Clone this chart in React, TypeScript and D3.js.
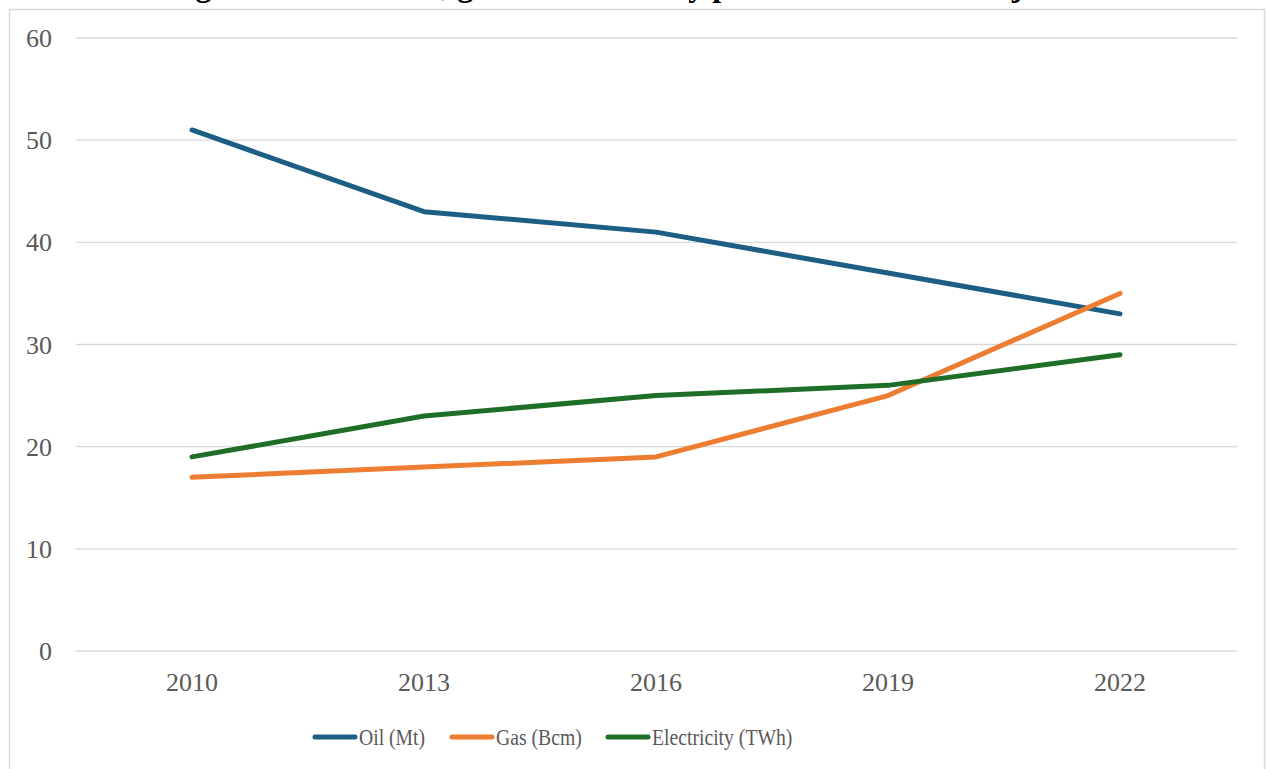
import React from "react";
import * as d3 from "d3";

const years = ["2010", "2013", "2016", "2019", "2022"];
const oilMt = [51, 43, 41, 37, 33];
const gasBcm = [17, 18, 19, 25, 35];
const electricityTWh = [19, 23, 25, 26, 29];
const yTicks = [0, 10, 20, 30, 40, 50, 60];
const seriesNames = ["Oil (Mt)", "Gas (Bcm)", "Electricity (TWh)"];
const seriesColors = ["#1D5F84", "#ED7D31", "#1E6E28"];
const titleText = "Figure 1: Annual oil, gas and electricity production in Azerbaijan";

export default function App() {
  const W = 1266;
  const H = 769;
  const x = d3.scaleBand<string>().domain(years).range([76, 1236]);
  const y = d3.scaleLinear().domain([0, 60]).range([651, 38]);
  const cx = (d: string) => (x(d) ?? 0) + x.bandwidth() / 2;
  const series = [oilMt, gasBcm, electricityTWh];
  const line = d3
    .line<number>()
    .x((_, i) => cx(years[i]))
    .y((v) => y(v));

  const legendX = [315, 452, 608];
  const font = "'Liberation Serif', 'Times New Roman', serif";

  return (
    <svg
      width={W}
      height={H}
      style={{ position: "absolute", left: 0, top: 0, background: "#fff" }}
      fontFamily={font}
    >
      <rect x={0} y={0} width={W} height={H} fill="#fff" />
      <text x={167} y={-4} textAnchor="start" fontSize={32} fontWeight="bold" fill="#000">
        {titleText}
      </text>
      <rect x={9.5} y={9.5} width={1255} height={780} fill="none" stroke="#d9d9d9" strokeWidth={1.5} />
      {yTicks.map((t) => (
        <g key={t}>
          <line x1={76} x2={1237} y1={y(t)} y2={y(t)} stroke="#d9d9d9" strokeWidth={1.3} />
          <text x={52} y={y(t)} dy="0.35em" textAnchor="end" fontSize={26} fill="#595959">
            {t}
          </text>
        </g>
      ))}
      {years.map((yr) => (
        <text key={yr} x={cx(yr)} y={682} dy="0.35em" textAnchor="middle" fontSize={26} fill="#595959">
          {yr}
        </text>
      ))}
      {series.map((s, i) => (
        <path
          key={i}
          d={line(s) ?? ""}
          fill="none"
          stroke={seriesColors[i]}
          strokeWidth={5}
          strokeLinecap="round"
          strokeLinejoin="round"
        />
      ))}
      {seriesNames.map((n, i) => (
        <g key={n}>
          <line
            x1={legendX[i]}
            x2={legendX[i] + 40}
            y1={737}
            y2={737}
            stroke={seriesColors[i]}
            strokeWidth={5}
            strokeLinecap="round"
          />
          <g transform={`translate(${legendX[i] + 44},737) scale(0.82,1)`}>
            <text x={0} y={0} dy="0.35em" fontSize={24} fill="#595959">
              {n}
            </text>
          </g>
        </g>
      ))}
    </svg>
  );
}
